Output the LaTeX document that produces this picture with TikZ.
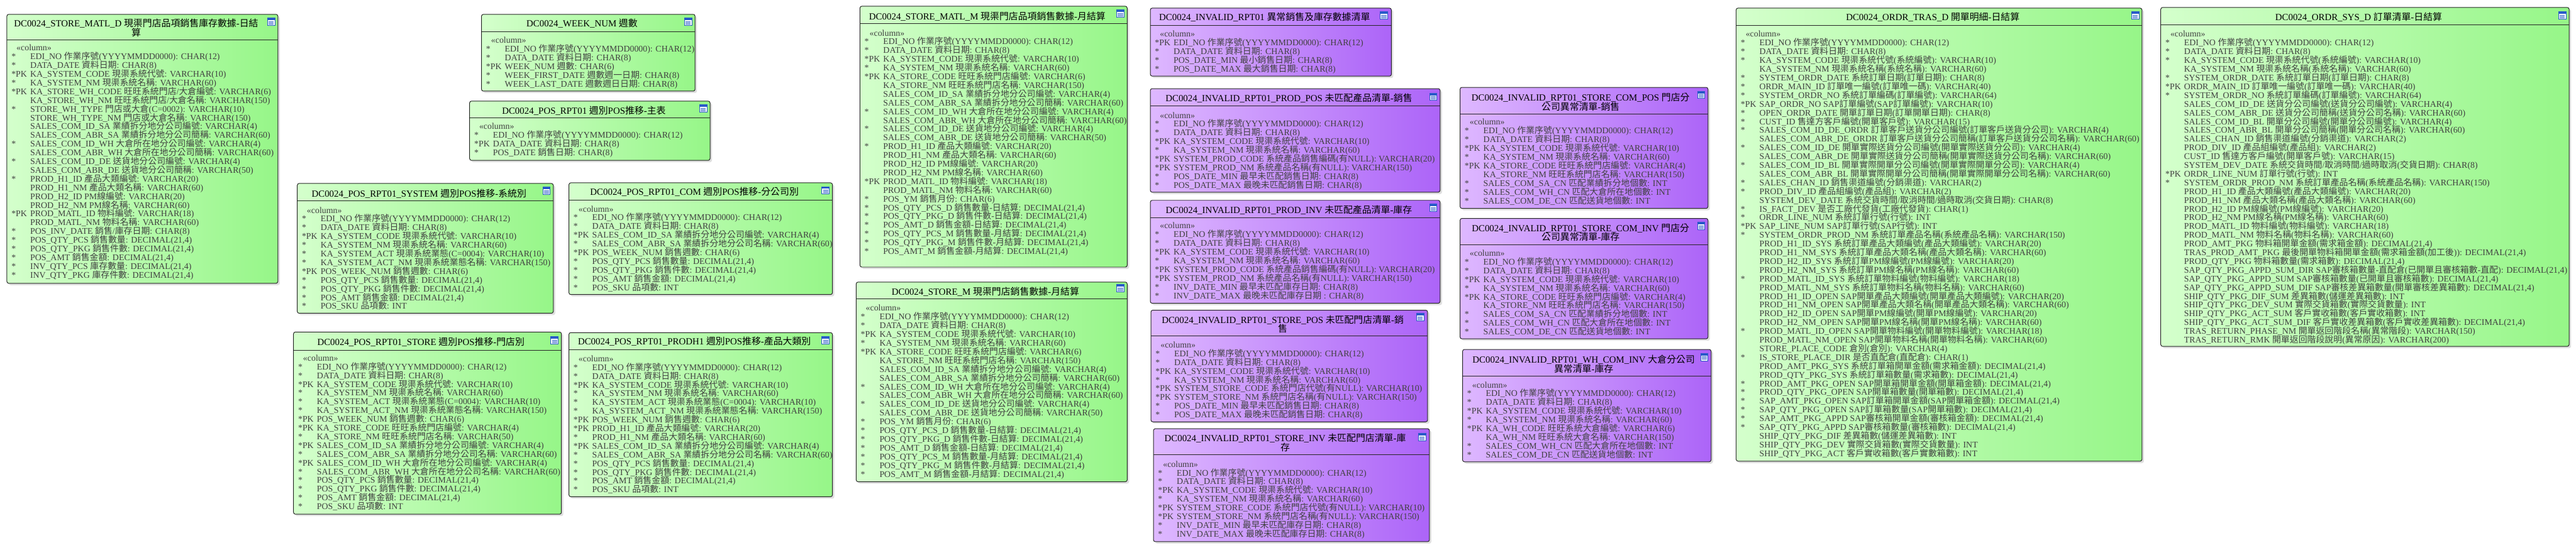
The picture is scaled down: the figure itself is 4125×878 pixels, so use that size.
\documentclass[tikz,border=0pt]{standalone}
\usepackage{fontspec}
\setmainfont{Liberation Serif}
\newfontfamily\cjkfam{Noto Sans CJK TC}
\usepackage{tikz}
\usetikzlibrary{fit,shadows}
\definecolor{grL}{RGB}{212,255,204}
\definecolor{grR}{RGB}{150,246,136}
\definecolor{puL}{RGB}{222,184,255}
\definecolor{puR}{RGB}{172,100,248}
\definecolor{icoblue}{RGB}{40,90,200}
% CJK runs switch to the CJK family automatically
\newXeTeXintercharclass\cjkcls
\newcount\cjkcnt
\cjkcnt="2E80
\loop
  \XeTeXcharclass\cjkcnt=\cjkcls
  \ifnum\cjkcnt<"9FFF \advance\cjkcnt by 1
\repeat
\XeTeXinterchartoks 0 \cjkcls = {\cjkfam}
\XeTeXinterchartoks 4095 \cjkcls = {\cjkfam}
\XeTeXinterchartoks \cjkcls 0 = {\rmfamily}
\XeTeXinterchartoks \cjkcls 4095 = {\rmfamily}
\XeTeXinterchartokenstate=1
% one column line of a table
\newcommand{\fld}[2]{\\\makebox[15pt][l]{#1}#2}
\newcommand{\colhead}{\rule{0pt}{5pt}\hspace*{4pt}«column»}

\begin{document}
\catcode`\_=12
\lineskiplimit=-10pt
\lineskip=0pt
\begin{tikzpicture}[x=0.5pt,y=-0.5pt,
  grtbl/.style={draw=black!85,line width=0.5pt,rounded corners=1.5pt,
                left color=grL,right color=grR,inner sep=0pt,
                drop shadow={shadow xshift=1.5pt,shadow yshift=-1.5pt,opacity=0.25}},
  putbl/.style={grtbl,left color=puL,right color=puR},
  ttl/.style={font=\fontsize{7.5}{7.5}\selectfont,align=center,inner sep=0pt},
  body/.style={font=\fontsize{7}{7}\selectfont,align=left,
               inner sep=0pt,anchor=north west,text=black!75},
  hline/.style={line width=0.5pt,draw=black!85},
  ico/.style={draw=icoblue,line width=0.4pt,fill=white,minimum width=6pt,
              minimum height=6pt,inner sep=0pt,
              path picture={
                \fill[icoblue] (path picture bounding box.north west)
                  rectangle ([yshift=-1.8pt]path picture bounding box.north east);
                \foreach \k in {2.9,3.9,4.9}
                  \draw[icoblue,line width=0.35pt]
                    ([xshift=0.9pt,yshift=-\k pt]path picture bounding box.north west)
                    -- ([xshift=-0.9pt,yshift=-\k pt]path picture bounding box.north east);
              }}
]
\path[fill=white,use as bounding box] (0,0) rectangle (4125,878);

% ---- STORE_MATL_D
\node[grtbl,fit={(11,23) (445,454)}] (matld) {};
\draw[hline] (11,64) -- (445,64);
\node[ttl] (matld-t) at (218,44.5) {DC0024_STORE_MATL_D 現渠門店品項銷售庫存數據-日結\\算};
\node[ico] (matld-i) at (434,35) {};
\node[body] (matld-b) at (18,71) {\colhead
  \fld{*}{EDI_NO 作業序號(YYYYMMDD0000): CHAR(12)}
  \fld{*}{DATA_DATE 資料日期: CHAR(8)}
  \fld{*PK}{KA_SYSTEM_CODE 現渠系統代號: VARCHAR(10)}
  \fld{*}{KA_SYSTEM_NM 現渠系統名稱: VARCHAR(60)}
  \fld{*PK}{KA_STORE_WH_CODE 旺旺系統門店/大倉編號: VARCHAR(6)}
  \fld{}{KA_STORE_WH_NM 旺旺系統門店/大倉名稱: VARCHAR(150)}
  \fld{*}{STORE_WH_TYPE 門店或大倉(C=0002): VARCHAR(10)}
  \fld{}{STORE_WH_TYPE_NM 門店或大倉名稱: VARCHAR(150)}
  \fld{}{SALES_COM_ID_SA 業績拆分地分公司編號: VARCHAR(4)}
  \fld{}{SALES_COM_ABR_SA 業績拆分地分公司簡稱: VARCHAR(60)}
  \fld{*}{SALES_COM_ID_WH 大倉所在地分公司編號: VARCHAR(4)}
  \fld{}{SALES_COM_ABR_WH 大倉所在地分公司簡稱: VARCHAR(60)}
  \fld{*}{SALES_COM_ID_DE 送貨地分公司編號: VARCHAR(4)}
  \fld{}{SALES_COM_ABR_DE 送貨地分公司簡稱: VARCHAR(50)}
  \fld{*}{PROD_H1_ID 產品大類編號: VARCHAR(20)}
  \fld{}{PROD_H1_NM 產品大類名稱: VARCHAR(60)}
  \fld{}{PROD_H2_ID PM線編號: VARCHAR(20)}
  \fld{}{PROD_H2_NM PM線名稱: VARCHAR(60)}
  \fld{*PK}{PROD_MATL_ID 物料編號: VARCHAR(18)}
  \fld{}{PROD_MATL_NM 物料名稱: VARCHAR(60)}
  \fld{*}{POS_INV_DATE 銷售/庫存日期: CHAR(8)}
  \fld{*}{POS_QTY_PCS 銷售數量: DECIMAL(21,4)}
  \fld{*}{POS_QTY_PKG 銷售件數: DECIMAL(21,4)}
  \fld{*}{POS_AMT 銷售金額: DECIMAL(21,4)}
  \fld{*}{INV_QTY_PCS 庫存數量: DECIMAL(21,4)}
  \fld{*}{INV_QTY_PKG 庫存件數: DECIMAL(21,4)}};

% ---- WEEK_NUM
\node[grtbl,fit={(771,23) (1113,146)}] (week) {};
\draw[hline] (771,51) -- (1113,51);
\node[ttl] (week-t) at (932,37) {DC0024_WEEK_NUM 週數};
\node[ico] (week-i) at (1102,35) {};
\node[body] (week-b) at (778,59) {\colhead
  \fld{*}{EDI_NO 作業序號(YYYYMMDD0000): CHAR(12)}
  \fld{*}{DATA_DATE 資料日期: CHAR(8)}
  \fld{*PK}{WEEK_NUM 週數: CHAR(6)}
  \fld{*}{WEEK_FIRST_DATE 週數週一日期: CHAR(8)}
  \fld{*}{WEEK_LAST_DATE 週數週日日期: CHAR(8)}};

% ---- POS_RPT01
\node[grtbl,fit={(752,162) (1137,257)}] (rpt) {};
\draw[hline] (752,189) -- (1137,189);
\node[ttl] (rpt-t) at (935,177) {DC0024_POS_RPT01 週別POS推移-主表};
\node[ico] (rpt-i) at (1126,174) {};
\node[body] (rpt-b) at (759,197) {\colhead
  \fld{*}{EDI_NO 作業序號(YYYYMMDD0000): CHAR(12)}
  \fld{*PK}{DATA_DATE 資料日期: CHAR(8)}
  \fld{*}{POS_DATE 銷售日期: CHAR(8)}};

% ---- POS_RPT01_SYSTEM
\node[grtbl,fit={(476,294) (886,502)}] (sys1) {};
\draw[hline] (476,322) -- (886,322);
\node[ttl] (sys1-t) at (671,310) {DC0024_POS_RPT01_SYSTEM 週別POS推移-系統別};
\node[ico] (sys1-i) at (875,306) {};
\node[body] (sys1-b) at (483,331) {\colhead
  \fld{*}{EDI_NO 作業序號(YYYYMMDD0000): CHAR(12)}
  \fld{*}{DATA_DATE 資料日期: CHAR(8)}
  \fld{*PK}{KA_SYSTEM_CODE 現渠系統代號: VARCHAR(10)}
  \fld{*}{KA_SYSTEM_NM 現渠系統名稱: VARCHAR(60)}
  \fld{*}{KA_SYSTEM_ACT 現渠系統業態(C=0004): VARCHAR(10)}
  \fld{*}{KA_SYSTEM_ACT_NM 現渠系統業態名稱: VARCHAR(150)}
  \fld{*PK}{POS_WEEK_NUM 銷售週數: CHAR(6)}
  \fld{*}{POS_QTY_PCS 銷售數量: DECIMAL(21,4)}
  \fld{*}{POS_QTY_PKG 銷售件數: DECIMAL(21,4)}
  \fld{*}{POS_AMT 銷售金額: DECIMAL(21,4)}
  \fld{*}{POS_SKU 品項數: INT}};

% ---- POS_RPT01_COM
\node[grtbl,fit={(911,293) (1333,472)}] (com) {};
\draw[hline] (911,321) -- (1333,321);
\node[ttl] (com-t) at (1112,307) {DC0024_POS_RPT01_COM 週別POS推移-分公司別};
\node[ico] (com-i) at (1322,305) {};
\node[body] (com-b) at (918,329) {\colhead
  \fld{*}{EDI_NO 作業序號(YYYYMMDD0000): CHAR(12)}
  \fld{*}{DATA_DATE 資料日期: CHAR(8)}
  \fld{*PK}{SALES_COM_ID_SA 業績拆分地分公司編號: VARCHAR(4)}
  \fld{*}{SALES_COM_ABR_SA 業績拆分地分公司名稱: VARCHAR(60)}
  \fld{*PK}{POS_WEEK_NUM 銷售週數: CHAR(6)}
  \fld{*}{POS_QTY_PCS 銷售數量: DECIMAL(21,4)}
  \fld{*}{POS_QTY_PKG 銷售件數: DECIMAL(21,4)}
  \fld{*}{POS_AMT 銷售金額: DECIMAL(21,4)}
  \fld{*}{POS_SKU 品項數: INT}};

% ---- POS_RPT01_STORE
\node[grtbl,fit={(470,532) (899,824)}] (store) {};
\draw[hline] (470,561) -- (899,561);
\node[ttl] (store-t) at (674,548) {DC0024_POS_RPT01_STORE 週別POS推移-門店別};
\node[ico] (store-i) at (888,545) {};
\node[body] (store-b) at (477,568) {\colhead
  \fld{*}{EDI_NO 作業序號(YYYYMMDD0000): CHAR(12)}
  \fld{*}{DATA_DATE 資料日期: CHAR(8)}
  \fld{*PK}{KA_SYSTEM_CODE 現渠系統代號: VARCHAR(10)}
  \fld{*}{KA_SYSTEM_NM 現渠系統名稱: VARCHAR(60)}
  \fld{*}{KA_SYSTEM_ACT 現渠系統業態(C=0004): VARCHAR(10)}
  \fld{*}{KA_SYSTEM_ACT_NM 現渠系統業態名稱: VARCHAR(150)}
  \fld{*PK}{POS_WEEK_NUM 銷售週數: CHAR(6)}
  \fld{*PK}{KA_STORE_CODE 旺旺系統門店編號: VARCHAR(4)}
  \fld{*}{KA_STORE_NM 旺旺系統門店名稱: VARCHAR(50)}
  \fld{*PK}{SALES_COM_ID_SA 業績拆分地分公司編號: VARCHAR(4)}
  \fld{*}{SALES_COM_ABR_SA 業績拆分地分公司名稱: VARCHAR(60)}
  \fld{*PK}{SALES_COM_ID_WH 大倉所在地分公司編號: VARCHAR(4)}
  \fld{*}{SALES_COM_ABR_WH 大倉所在地分公司名稱: VARCHAR(60)}
  \fld{*}{POS_QTY_PCS 銷售數量: DECIMAL(21,4)}
  \fld{*}{POS_QTY_PKG 銷售件數: DECIMAL(21,4)}
  \fld{*}{POS_AMT 銷售金額: DECIMAL(21,4)}
  \fld{*}{POS_SKU 品項數: INT}};

% ---- POS_RPT01_PRODH1
\node[grtbl,fit={(911,533) (1333,796)}] (prodh) {};
\draw[hline] (911,560) -- (1333,560);
\node[ttl] (prodh-t) at (1112,547) {DC0024_POS_RPT01_PRODH1 週別POS推移-產品大類別};
\node[ico] (prodh-i) at (1322,545) {};
\node[body] (prodh-b) at (918,569) {\colhead
  \fld{*}{EDI_NO 作業序號(YYYYMMDD0000): CHAR(12)}
  \fld{*}{DATA_DATE 資料日期: CHAR(8)}
  \fld{*PK}{KA_SYSTEM_CODE 現渠系統代號: VARCHAR(10)}
  \fld{*}{KA_SYSTEM_NM 現渠系統名稱: VARCHAR(60)}
  \fld{*}{KA_SYSTEM_ACT 現渠系統業態(C=0004): VARCHAR(10)}
  \fld{*}{KA_SYSTEM_ACT_NM 現渠系統業態名稱: VARCHAR(150)}
  \fld{*PK}{POS_WEEK_NUM 銷售週數: CHAR(6)}
  \fld{*PK}{PROD_H1_ID 產品大類編號: VARCHAR(20)}
  \fld{*}{PROD_H1_NM 產品大類名稱: VARCHAR(60)}
  \fld{*PK}{SALES_COM_ID_SA 業績拆分地分公司編號: VARCHAR(4)}
  \fld{*}{SALES_COM_ABR_SA 業績拆分地分公司名稱: VARCHAR(60)}
  \fld{*}{POS_QTY_PCS 銷售數量: DECIMAL(21,4)}
  \fld{*}{POS_QTY_PKG 銷售件數: DECIMAL(21,4)}
  \fld{*}{POS_AMT 銷售金額: DECIMAL(21,4)}
  \fld{*}{POS_SKU 品項數: INT}};

% ---- STORE_MATL_M
\node[grtbl,fit={(1377,10) (1805,428)}] (matlm) {};
\draw[hline] (1377,38) -- (1805,38);
\node[ttl] (matlm-t) at (1581,26) {DC0024_STORE_MATL_M 現渠門店品項銷售數據-月結算};
\node[ico] (matlm-i) at (1794,22) {};
\node[body] (matlm-b) at (1384,47) {\colhead
  \fld{*}{EDI_NO 作業序號(YYYYMMDD0000): CHAR(12)}
  \fld{*}{DATA_DATE 資料日期: CHAR(8)}
  \fld{*PK}{KA_SYSTEM_CODE 現渠系統代號: VARCHAR(10)}
  \fld{*}{KA_SYSTEM_NM 現渠系統名稱: VARCHAR(60)}
  \fld{*PK}{KA_STORE_CODE 旺旺系統門店編號: VARCHAR(6)}
  \fld{}{KA_STORE_NM 旺旺系統門店名稱: VARCHAR(150)}
  \fld{}{SALES_COM_ID_SA 業績拆分地分公司編號: VARCHAR(4)}
  \fld{}{SALES_COM_ABR_SA 業績拆分地分公司簡稱: VARCHAR(60)}
  \fld{*}{SALES_COM_ID_WH 大倉所在地分公司編號: VARCHAR(4)}
  \fld{}{SALES_COM_ABR_WH 大倉所在地分公司簡稱: VARCHAR(60)}
  \fld{*}{SALES_COM_ID_DE 送貨地分公司編號: VARCHAR(4)}
  \fld{}{SALES_COM_ABR_DE 送貨地分公司簡稱: VARCHAR(50)}
  \fld{*}{PROD_H1_ID 產品大類編號: VARCHAR(20)}
  \fld{}{PROD_H1_NM 產品大類名稱: VARCHAR(60)}
  \fld{}{PROD_H2_ID PM線編號: VARCHAR(20)}
  \fld{}{PROD_H2_NM PM線名稱: VARCHAR(60)}
  \fld{*PK}{PROD_MATL_ID 物料編號: VARCHAR(18)}
  \fld{}{PROD_MATL_NM 物料名稱: VARCHAR(60)}
  \fld{*}{POS_YM 銷售月份: CHAR(6)}
  \fld{*}{POS_QTY_PCS_D 銷售數量-日結算: DECIMAL(21,4)}
  \fld{*}{POS_QTY_PKG_D 銷售件數-日結算: DECIMAL(21,4)}
  \fld{*}{POS_AMT_D 銷售金額-日結算: DECIMAL(21,4)}
  \fld{*}{POS_QTY_PCS_M 銷售數量-月結算: DECIMAL(21,4)}
  \fld{*}{POS_QTY_PKG_M 銷售件數-月結算: DECIMAL(21,4)}
  \fld{*}{POS_AMT_M 銷售金額-月結算: DECIMAL(21,4)}};

% ---- STORE_M
\node[grtbl,fit={(1371,452) (1805,772)}] (storem) {};
\draw[hline] (1371,479) -- (1805,479);
\node[ttl] (storem-t) at (1578,467) {DC0024_STORE_M 現渠門店銷售數據-月結算};
\node[ico] (storem-i) at (1794,462) {};
\node[body] (storem-b) at (1378,488) {\colhead
  \fld{*}{EDI_NO 作業序號(YYYYMMDD0000): CHAR(12)}
  \fld{*}{DATA_DATE 資料日期: CHAR(8)}
  \fld{*PK}{KA_SYSTEM_CODE 現渠系統代號: VARCHAR(10)}
  \fld{*}{KA_SYSTEM_NM 現渠系統名稱: VARCHAR(60)}
  \fld{*PK}{KA_STORE_CODE 旺旺系統門店編號: VARCHAR(6)}
  \fld{}{KA_STORE_NM 旺旺系統門店名稱: VARCHAR(150)}
  \fld{}{SALES_COM_ID_SA 業績拆分地分公司編號: VARCHAR(4)}
  \fld{}{SALES_COM_ABR_SA 業績拆分地分公司簡稱: VARCHAR(60)}
  \fld{*}{SALES_COM_ID_WH 大倉所在地分公司編號: VARCHAR(4)}
  \fld{}{SALES_COM_ABR_WH 大倉所在地分公司簡稱: VARCHAR(60)}
  \fld{*}{SALES_COM_ID_DE 送貨地分公司編號: VARCHAR(4)}
  \fld{}{SALES_COM_ABR_DE 送貨地分公司簡稱: VARCHAR(50)}
  \fld{*}{POS_YM 銷售月份: CHAR(6)}
  \fld{*}{POS_QTY_PCS_D 銷售數量-日結算: DECIMAL(21,4)}
  \fld{*}{POS_QTY_PKG_D 銷售件數-日結算: DECIMAL(21,4)}
  \fld{*}{POS_AMT_D 銷售金額-日結算: DECIMAL(21,4)}
  \fld{*}{POS_QTY_PCS_M 銷售數量-月結算: DECIMAL(21,4)}
  \fld{*}{POS_QTY_PKG_M 銷售件數-月結算: DECIMAL(21,4)}
  \fld{*}{POS_AMT_M 銷售金額-月結算: DECIMAL(21,4)}};

% ---- INVALID_RPT01
\node[putbl,fit={(1842,13) (2228,122)}] (inv) {};
\draw[hline] (1842,41) -- (2228,41);
\node[ttl] (inv-t) at (2025,27) {DC0024_INVALID_RPT01 異常銷售及庫存數據清單};
\node[ico] (inv-i) at (2216,25) {};
\node[body] (inv-b) at (1849,49) {\colhead
  \fld{*PK}{EDI_NO 作業序號(YYYYMMDD0000): CHAR(12)}
  \fld{*}{DATA_DATE 資料日期: CHAR(8)}
  \fld{*}{POS_DATE_MIN 最小銷售日期: CHAR(8)}
  \fld{*}{POS_DATE_MAX 最大銷售日期: CHAR(8)}};

% ---- INVALID_RPT01_PROD_POS
\node[putbl,fit={(1842,142) (2306,308)}] (ppos) {};
\draw[hline] (1842,170) -- (2306,170);
\node[ttl] (ppos-t) at (2064,157) {DC0024_INVALID_RPT01_PROD_POS 未匹配產品清單-銷售};
\node[ico] (ppos-i) at (2295,155) {};
\node[body] (ppos-b) at (1849,179) {\colhead
  \fld{*}{EDI_NO 作業序號(YYYYMMDD0000): CHAR(12)}
  \fld{*}{DATA_DATE 資料日期: CHAR(8)}
  \fld{*PK}{KA_SYSTEM_CODE 現渠系統代號: VARCHAR(10)}
  \fld{*}{KA_SYSTEM_NM 現渠系統名稱: VARCHAR(60)}
  \fld{*PK}{SYSTEM_PROD_CODE 系統產品銷售編碼(有NULL): VARCHAR(20)}
  \fld{*PK}{SYSTEM_PROD_NM 系統產品名稱(有NULL): VARCHAR(150)}
  \fld{*}{POS_DATE_MIN 最早未匹配銷售日期: CHAR(8)}
  \fld{*}{POS_DATE_MAX 最晚未匹配銷售日期: CHAR(8)}};

% ---- INVALID_RPT01_PROD_INV
\node[putbl,fit={(1842,321) (2306,486)}] (pinv) {};
\draw[hline] (1842,349) -- (2306,349);
\node[ttl] (pinv-t) at (2064,336) {DC0024_INVALID_RPT01_PROD_INV 未匹配產品清單-庫存};
\node[ico] (pinv-i) at (2295,333) {};
\node[body] (pinv-b) at (1849,356) {\colhead
  \fld{*}{EDI_NO 作業序號(YYYYMMDD0000): CHAR(12)}
  \fld{*}{DATA_DATE 資料日期: CHAR(8)}
  \fld{*PK}{KA_SYSTEM_CODE 現渠系統代號: VARCHAR(10)}
  \fld{*}{KA_SYSTEM_NM 現渠系統名稱: VARCHAR(60)}
  \fld{*PK}{SYSTEM_PROD_CODE 系統產品銷售編碼(有NULL): VARCHAR(20)}
  \fld{*PK}{SYSTEM_PROD_NM 系統產品名稱(有NULL): VARCHAR(150)}
  \fld{*}{INV_DATE_MIN 最早未匹配庫存日期: CHAR(8)}
  \fld{*}{INV_DATE_MAX 最晚未匹配庫存日期 : CHAR(8)}};

% ---- INVALID_RPT01_STORE_POS
\node[putbl,fit={(1843,497) (2286,676)}] (spos) {};
\draw[hline] (1843,538) -- (2286,538);
\node[ttl] (spos-t) at (2054,519.5) {DC0024_INVALID_RPT01_STORE_POS 未匹配門店清單-銷\\售};
\node[ico] (spos-i) at (2274,508) {};
\node[body] (spos-b) at (1850,547) {\colhead
  \fld{*}{EDI_NO 作業序號(YYYYMMDD0000): CHAR(12)}
  \fld{*}{DATA_DATE 資料日期: CHAR(8)}
  \fld{*PK}{KA_SYSTEM_CODE 現渠系統代號: VARCHAR(10)}
  \fld{*}{KA_SYSTEM_NM 現渠系統名稱: VARCHAR(60)}
  \fld{*PK}{SYSTEM_STORE_CODE 系統門店代號(有NULL): VARCHAR(10)}
  \fld{*PK}{SYSTEM_STORE_NM 系統門店名稱(有NULL): VARCHAR(150)}
  \fld{*}{POS_DATE_MIN 最早未匹配銷售日期: CHAR(8)}
  \fld{*}{POS_DATE_MAX 最晚未匹配銷售日期: CHAR(8)}};

% ---- INVALID_RPT01_STORE_INV
\node[putbl,fit={(1847,687) (2289,868)}] (sinv) {};
\draw[hline] (1847,729) -- (2289,729);
\node[ttl] (sinv-t) at (2058,709.5) {DC0024_INVALID_RPT01_STORE_INV 未匹配門店清單-庫\\存};
\node[ico] (sinv-i) at (2277,700) {};
\node[body] (sinv-b) at (1854,738) {\colhead
  \fld{*}{EDI_NO 作業序號(YYYYMMDD0000): CHAR(12)}
  \fld{*}{DATA_DATE 資料日期: CHAR(8)}
  \fld{*PK}{KA_SYSTEM_CODE 現渠系統代號: VARCHAR(10)}
  \fld{*}{KA_SYSTEM_NM 現渠系統名稱: VARCHAR(60)}
  \fld{*PK}{SYSTEM_STORE_CODE 系統門店代號(有NULL): VARCHAR(10)}
  \fld{*PK}{SYSTEM_STORE_NM 系統門店名稱(有NULL): VARCHAR(150)}
  \fld{*}{INV_DATE_MIN 最早未匹配庫存日期: CHAR(8)}
  \fld{*}{INV_DATE_MAX 最晚未匹配庫存日期: CHAR(8)}};

% ---- INVALID_RPT01_STORE_COM_POS
\node[putbl,fit={(2338,140) (2735,334)}] (cpos) {};
\draw[hline] (2338,183) -- (2735,183);
\node[ttl] (cpos-t) at (2531,163.5) {DC0024_INVALID_RPT01_STORE_COM_POS 門店分\\公司異常清單-銷售};
\node[ico] (cpos-i) at (2724,152) {};
\node[body] (cpos-b) at (2345,190) {\colhead
  \fld{*}{EDI_NO 作業序號(YYYYMMDD0000): CHAR(12)}
  \fld{*}{DATA_DATE 資料日期: CHAR(8)}
  \fld{*PK}{KA_SYSTEM_CODE 現渠系統代號: VARCHAR(10)}
  \fld{*}{KA_SYSTEM_NM 現渠系統名稱: VARCHAR(60)}
  \fld{*PK}{KA_STORE_CODE 旺旺系統門店編號: VARCHAR(4)}
  \fld{}{KA_STORE_NM 旺旺系統門店名稱: VARCHAR(150)}
  \fld{*}{SALES_COM_SA_CN 匹配業績拆分地個數: INT}
  \fld{*}{SALES_COM_WH_CN 匹配大倉所在地個數: INT}
  \fld{*}{SALES_COM_DE_CN 匹配送貨地個數: INT}};

% ---- INVALID_RPT01_STORE_COM_INV
\node[putbl,fit={(2338,350) (2735,543)}] (cinv) {};
\draw[hline] (2338,392) -- (2735,392);
\node[ttl] (cinv-t) at (2531,372.5) {DC0024_INVALID_RPT01_STORE_COM_INV 門店分\\公司異常清單-庫存};
\node[ico] (cinv-i) at (2724,362) {};
\node[body] (cinv-b) at (2345,400) {\colhead
  \fld{*}{EDI_NO 作業序號(YYYYMMDD0000): CHAR(12)}
  \fld{*}{DATA_DATE 資料日期: CHAR(8)}
  \fld{*PK}{KA_SYSTEM_CODE 現渠系統代號: VARCHAR(10)}
  \fld{*}{KA_SYSTEM_NM 現渠系統名稱: VARCHAR(60)}
  \fld{*PK}{KA_STORE_CODE 旺旺系統門店編號: VARCHAR(4)}
  \fld{}{KA_STORE_NM 旺旺系統門店名稱: VARCHAR(150)}
  \fld{*}{SALES_COM_SA_CN 匹配業績拆分地個數: INT}
  \fld{*}{SALES_COM_WH_CN 匹配大倉所在地個數: INT}
  \fld{*}{SALES_COM_DE_CN 匹配送貨地個數: INT}};

% ---- INVALID_RPT01_WH_COM_INV
\node[putbl,fit={(2342,560) (2740,740)}] (whc) {};
\draw[hline] (2342,603) -- (2740,603);
\node[ttl] (whc-t) at (2536,583) {DC0024_INVALID_RPT01_WH_COM_INV 大倉分公司\\異常清單-庫存};
\node[ico] (whc-i) at (2729,572) {};
\node[body] (whc-b) at (2349,611) {\colhead
  \fld{*}{EDI_NO 作業序號(YYYYMMDD0000): CHAR(12)}
  \fld{*}{DATA_DATE 資料日期: CHAR(8)}
  \fld{*PK}{KA_SYSTEM_CODE 現渠系統代號: VARCHAR(10)}
  \fld{*}{KA_SYSTEM_NM 現渠系統名稱: VARCHAR(60)}
  \fld{*PK}{KA_WH_CODE 旺旺系統大倉編號: VARCHAR(6)}
  \fld{}{KA_WH_NM 旺旺系統大倉名稱: VARCHAR(150)}
  \fld{*}{SALES_COM_WH_CN 匹配大倉所在地個數: INT}
  \fld{*}{SALES_COM_DE_CN 匹配送貨地個數: INT}};

% ---- ORDR_TRAS_D
\node[grtbl,fit={(2780,13) (3430,739)}] (tras) {};
\draw[hline] (2780,41) -- (3430,41);
\node[ttl] (tras-t) at (3095,27) {DC0024_ORDR_TRAS_D 開單明細-日結算};
\node[ico] (tras-i) at (3419,25) {};
\node[body] (tras-b) at (2787,49) {\colhead
  \fld{*}{EDI_NO 作業序號(YYYYMMDD0000): CHAR(12)}
  \fld{*}{DATA_DATE 資料日期: CHAR(8)}
  \fld{*}{KA_SYSTEM_CODE 現渠系統代號(系統編號): VARCHAR(10)}
  \fld{}{KA_SYSTEM_NM 現渠系統名稱(系統名稱): VARCHAR(60)}
  \fld{*}{SYSTEM_ORDR_DATE 系統訂單日期(訂單日期): CHAR(8)}
  \fld{*}{ORDR_MAIN_ID 訂單唯一編號(訂單唯一碼): VARCHAR(40)}
  \fld{*}{SYSTEM_ORDR_NO 系統訂單編碼(訂單編號): VARCHAR(64)}
  \fld{*PK}{SAP_ORDR_NO SAP訂單編號(SAP訂單編號): VARCHAR(10)}
  \fld{*}{OPEN_ORDR_DATE 開單訂單日期(訂單開單日期): CHAR(8)}
  \fld{*}{CUST_ID 售達方客戶編號(開單客戶號): VARCHAR(15)}
  \fld{*}{SALES_COM_ID_DE_ORDR 訂單客戶送貨分公司編號(訂單客戶送貨分公司): VARCHAR(4)}
  \fld{}{SALES_COM_ABR_DE_ORDR 訂單客戶送貨分公司簡稱(訂單客戶送貨分公司名稱): VARCHAR(60)}
  \fld{*}{SALES_COM_ID_DE 開單實際送貨分公司編號(開單實際送貨分公司): VARCHAR(4)}
  \fld{}{SALES_COM_ABR_DE 開單實際送貨分公司簡稱(開單實際送貨分公司名稱): VARCHAR(60)}
  \fld{*}{SALES_COM_ID_BL 開單實際開單分公司編號(開單實際開單分公司): VARCHAR(4)}
  \fld{}{SALES_COM_ABR_BL 開單實際開單分公司簡稱(開單實際開單分公司名稱): VARCHAR(60)}
  \fld{*}{SALES_CHAN_ID 銷售渠道編號(分銷渠道): VARCHAR(2)}
  \fld{*}{PROD_DIV_ID 產品組編號(產品組): VARCHAR(2)}
  \fld{}{SYSTEM_DEV_DATE 系統交貨時間/取消時間/過時取消(交貨日期): CHAR(8)}
  \fld{*}{IS_FACT_DEV 是否工廠代發貨(工廠代發貨): CHAR(1)}
  \fld{*}{ORDR_LINE_NUM 系統訂單行號(行號): INT}
  \fld{*PK}{SAP_LINE_NUM SAP訂單行號(SAP行號): INT}
  \fld{*}{SYSTEM_ORDR_PROD_NM 系統訂單產品名稱(系統產品名稱): VARCHAR(150)}
  \fld{}{PROD_H1_ID_SYS 系統訂單產品大類編號(產品大類編號): VARCHAR(20)}
  \fld{}{PROD_H1_NM_SYS 系統訂單產品大類名稱(產品大類名稱): VARCHAR(60)}
  \fld{}{PROD_H2_ID_SYS 系統訂單PM線編號(PM線編號): VARCHAR(20)}
  \fld{}{PROD_H2_NM_SYS 系統訂單PM線名稱(PM線名稱): VARCHAR(60)}
  \fld{*}{PROD_MATL_ID_SYS 系統訂單物料編號(物料編號): VARCHAR(18)}
  \fld{}{PROD_MATL_NM_SYS 系統訂單物料名稱(物料名稱): VARCHAR(60)}
  \fld{}{PROD_H1_ID_OPEN SAP開單產品大類編號(開單產品大類編號): VARCHAR(20)}
  \fld{}{PROD_H1_NM_OPEN SAP開單產品大類名稱(開單產品大類名稱): VARCHAR(60)}
  \fld{}{PROD_H2_ID_OPEN SAP開單PM線編號(開單PM線編號): VARCHAR(20)}
  \fld{}{PROD_H2_NM_OPEN SAP開單PM線名稱(開單PM線名稱): VARCHAR(60)}
  \fld{*}{PROD_MATL_ID_OPEN SAP開單物料編號(開單物料編號): VARCHAR(18)}
  \fld{}{PROD_MATL_NM_OPEN SAP開單物料名稱(開單物料名稱): VARCHAR(60)}
  \fld{}{STORE_PLACE_CODE 倉別(倉別): VARCHAR(4)}
  \fld{*}{IS_STORE_PLACE_DIR 是否直配倉(直配倉): CHAR(1)}
  \fld{}{PROD_AMT_PKG_SYS 系統訂單箱開單金額(需求箱金額): DECIMAL(21,4)}
  \fld{}{PROD_QTY_PKG_SYS 系統訂單箱數量(需求箱數): DECIMAL(21,4)}
  \fld{*}{PROD_AMT_PKG_OPEN SAP開單箱開單金額(開單箱金額): DECIMAL(21,4)}
  \fld{*}{PROD_QTY_PKG_OPEN SAP開單箱數量(開單箱數): DECIMAL(21,4)}
  \fld{*}{SAP_AMT_PKG_OPEN SAP訂單箱開單金額(SAP開單箱金額): DECIMAL(21,4)}
  \fld{*}{SAP_QTY_PKG_OPEN SAP訂單箱數量(SAP開單箱數): DECIMAL(21,4)}
  \fld{*}{SAP_AMT_PKG_APPD SAP審核箱開單金額(審核箱金額): DECIMAL(21,4)}
  \fld{*}{SAP_QTY_PKG_APPD SAP審核箱數量(審核箱數): DECIMAL(21,4)}
  \fld{}{SHIP_QTY_PKG_DIF 差異箱數(儲運差異箱數): INT}
  \fld{}{SHIP_QTY_PKG_DEV 實際交貨箱數(實際交貨數量): INT}
  \fld{}{SHIP_QTY_PKG_ACT 客戶實收箱數(客戶實數箱數): INT}};

% ---- ORDR_SYS_D
\node[grtbl,fit={(3460,12) (4114,555)}] (ordr) {};
\draw[hline] (3460,40) -- (4114,40);
\node[ttl] (ordr-t) at (3777,27) {DC0024_ORDR_SYS_D 訂單清單-日結算};
\node[ico] (ordr-i) at (4103,25) {};
\node[body] (ordr-b) at (3467,49) {\colhead
  \fld{*}{EDI_NO 作業序號(YYYYMMDD0000): CHAR(12)}
  \fld{*}{DATA_DATE 資料日期: CHAR(8)}
  \fld{*}{KA_SYSTEM_CODE 現渠系統代號(系統編號): VARCHAR(10)}
  \fld{}{KA_SYSTEM_NM 現渠系統名稱(系統名稱): VARCHAR(60)}
  \fld{*}{SYSTEM_ORDR_DATE 系統訂單日期(訂單日期): CHAR(8)}
  \fld{*PK}{ORDR_MAIN_ID 訂單唯一編號(訂單唯一碼): VARCHAR(40)}
  \fld{*}{SYSTEM_ORDR_NO 系統訂單編碼(訂單編號): VARCHAR(64)}
  \fld{}{SALES_COM_ID_DE 送貨分公司編號(送貨分公司編號): VARCHAR(4)}
  \fld{}{SALES_COM_ABR_DE 送貨分公司簡稱(送貨分公司名稱): VARCHAR(60)}
  \fld{}{SALES_COM_ID_BL 開單分公司編號(開單分公司編號): VARCHAR(4)}
  \fld{}{SALES_COM_ABR_BL 開單分公司簡稱(開單分公司名稱): VARCHAR(60)}
  \fld{}{SALES_CHAN_ID 銷售渠道編號(分銷渠道): VARCHAR(2)}
  \fld{}{PROD_DIV_ID 產品組編號(產品組): VARCHAR(2)}
  \fld{}{CUST_ID 售達方客戶編號(開單客戶號): VARCHAR(15)}
  \fld{}{SYSTEM_DEV_DATE 系統交貨時間/取消時間/過時取消(交貨日期): CHAR(8)}
  \fld{*PK}{ORDR_LINE_NUM 訂單行號(行號): INT}
  \fld{*}{SYSTEM_ORDR_PROD_NM 系統訂單產品名稱(系統產品名稱): VARCHAR(150)}
  \fld{}{PROD_H1_ID 產品大類編號(產品大類編號): VARCHAR(20)}
  \fld{}{PROD_H1_NM 產品大類名稱(產品大類名稱): VARCHAR(60)}
  \fld{}{PROD_H2_ID PM線編號(PM線編號): VARCHAR(20)}
  \fld{}{PROD_H2_NM PM線名稱(PM線名稱): VARCHAR(60)}
  \fld{}{PROD_MATL_ID 物料編號(物料編號): VARCHAR(18)}
  \fld{}{PROD_MATL_NM 物料名稱(物料名稱): VARCHAR(60)}
  \fld{}{PROD_AMT_PKG 物料箱開單金額(需求箱金額): DECIMAL(21,4)}
  \fld{}{TRAS_PROD_AMT_PKG 最後開單物料箱開單金額(需求箱金額(加工後)): DECIMAL(21,4)}
  \fld{}{PROD_QTY_PKG 物料箱數量(需求箱數): DECIMAL(21,4)}
  \fld{}{SAP_QTY_PKG_APPD_SUM_DIR SAP審核箱數量-直配倉(已開單且審核箱數-直配): DECIMAL(21,4)}
  \fld{}{SAP_QTY_PKG_APPD_SUM SAP審核箱數量(已開單且審核箱數): DECIMAL(21,4)}
  \fld{}{SAP_QTY_PKG_APPD_SUM_DIF SAP審核差異箱數量(開單審核差異箱數): DECIMAL(21,4)}
  \fld{}{SHIP_QTY_PKG_DIF_SUM 差異箱數(儲運差異箱數): INT}
  \fld{}{SHIP_QTY_PKG_DEV_SUM 實際交貨箱數(實際交貨數量): INT}
  \fld{}{SHIP_QTY_PKG_ACT_SUM 客戶實收箱數(客戶實收箱數): INT}
  \fld{}{SHIP_QTY_PKG_ACT_SUM_DIF 客戶實收差異箱數(客戶實收差異箱數): DECIMAL(21,4)}
  \fld{}{TRAS_RETURN_PHASE_NM 開單返回階段名稱(異常階段): VARCHAR(150)}
  \fld{}{TRAS_RETURN_RMK 開單返回階段說明(異常原因): VARCHAR(200)}};
\end{tikzpicture}
\end{document}
